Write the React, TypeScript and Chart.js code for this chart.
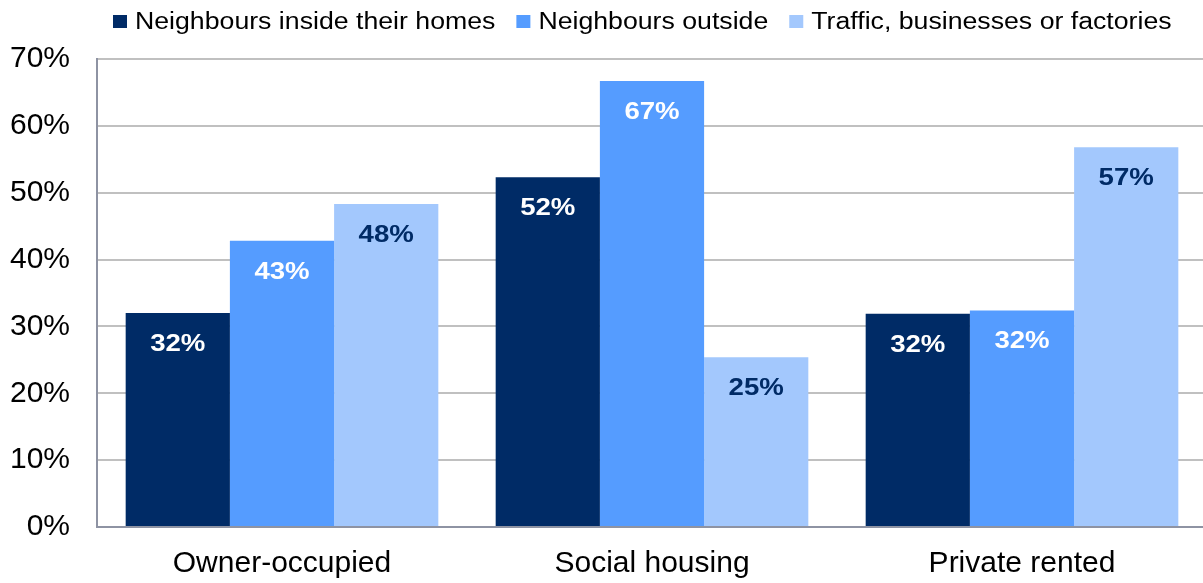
import React, { useEffect, useRef } from "react";
import { Chart, registerables } from "chart.js";

Chart.register(...registerables);

const categories = ["Owner-occupied", "Social housing", "Private rented"];
const seriesNames = [
  "Neighbours inside their homes",
  "Neighbours outside",
  "Traffic, businesses or factories",
];
const insideHomes = [32.0, 52.3, 31.9];
const outside = [42.8, 66.7, 32.4];
const traffic = [48.3, 25.4, 56.8];
const yTicks = [0, 10, 20, 30, 40, 50, 60, 70];

const colors = ["#002B66", "#559CFF", "#A3C8FD"];
const labelColors = ["#FFFFFF", "#FFFFFF", "#002B66"];
const FONT = "'Liberation Sans', Arial, sans-serif";

const dataLabelPlugin = {
  id: "dataLabels",
  afterDatasetsDraw(chart: any) {
    const ctx = chart.ctx;
    chart.data.datasets.forEach((ds: any, di: number) => {
      const meta = chart.getDatasetMeta(di);
      meta.data.forEach((bar: any, i: number) => {
        ctx.save();
        ctx.font = `bold 24px ${FONT}`;
        ctx.textAlign = "center";
        ctx.textBaseline = "alphabetic";
        ctx.fillStyle = labelColors[di];
        ctx.translate(bar.x, bar.y + 38);
        ctx.scale(1.15, 1);
        ctx.fillText(Math.round(ds.data[i]) + "%", 0, 0);
        ctx.restore();
      });
    });
  },
};

const legendPlugin = {
  id: "customLegend",
  afterDraw(chart: any) {
    const ctx = chart.ctx;
    const sx = 1.16;
    ctx.save();
    ctx.font = `23px ${FONT}`;
    ctx.textBaseline = "alphabetic";
    ctx.textAlign = "left";
    let x = 113;
    chart.data.datasets.forEach((ds: any) => {
      ctx.fillStyle = ds.backgroundColor;
      ctx.fillRect(x, 15, 14, 13);
      x += 22;
      ctx.fillStyle = "#000";
      ctx.save();
      ctx.translate(x, 29);
      ctx.scale(sx, 1);
      ctx.fillText(ds.label, 0, 0);
      ctx.restore();
      x += ctx.measureText(ds.label).width * sx + 21;
    });
    ctx.restore();
  },
};

export default function App() {
  const ref = useRef<HTMLCanvasElement>(null);
  useEffect(() => {
    if (!ref.current) return;
    const chart = new Chart(ref.current, {
      type: "bar",
      data: {
        labels: categories,
        datasets: [insideHomes, outside, traffic].map((d, i) => ({
          label: seriesNames[i],
          data: d,
          backgroundColor: colors[i],
          borderWidth: 0,
          barPercentage: 1,
          categoryPercentage: 0.845,
        })),
      },
      options: {
        animation: false,
        responsive: false,
        layout: { padding: { left: 0, right: 3, top: 59, bottom: 0 } },
        plugins: {
          tooltip: { enabled: false },
          legend: { display: false },
        },
        scales: {
          x: {
            afterFit(scale: any) {
              scale.height = 56;
            },
            grid: { display: false },
            border: { display: true, color: "#8E93A3", width: 2 },
            ticks: {
              color: "#000",
              font: { family: FONT, size: 30 },
              padding: 11,
            },
          },
          y: {
            min: yTicks[0],
            max: yTicks[yTicks.length - 1],
            afterFit(scale: any) {
              scale.width = 97;
            },
            afterBuildTicks(scale: any) {
              scale.ticks = yTicks.map((v) => ({ value: v }));
            },
            grid: { color: "#C0C0C0", lineWidth: 2, drawTicks: false },
            border: { display: true, color: "#8E93A3", width: 2 },
            ticks: {
              color: "#000",
              font: { family: FONT, size: 30 },
              padding: 27,
              callback: (v: any) => v + "%",
            },
          },
        },
      },
      plugins: [dataLabelPlugin, legendPlugin],
    });
    return () => chart.destroy();
  }, []);
  return (
    <div
      style={{
        position: "absolute",
        left: 0,
        top: 0,
        width: 1203,
        height: 583,
        overflow: "hidden",
        background: "#fff",
      }}
    >
      <canvas ref={ref} width={1210} height={583} />
    </div>
  );
}
